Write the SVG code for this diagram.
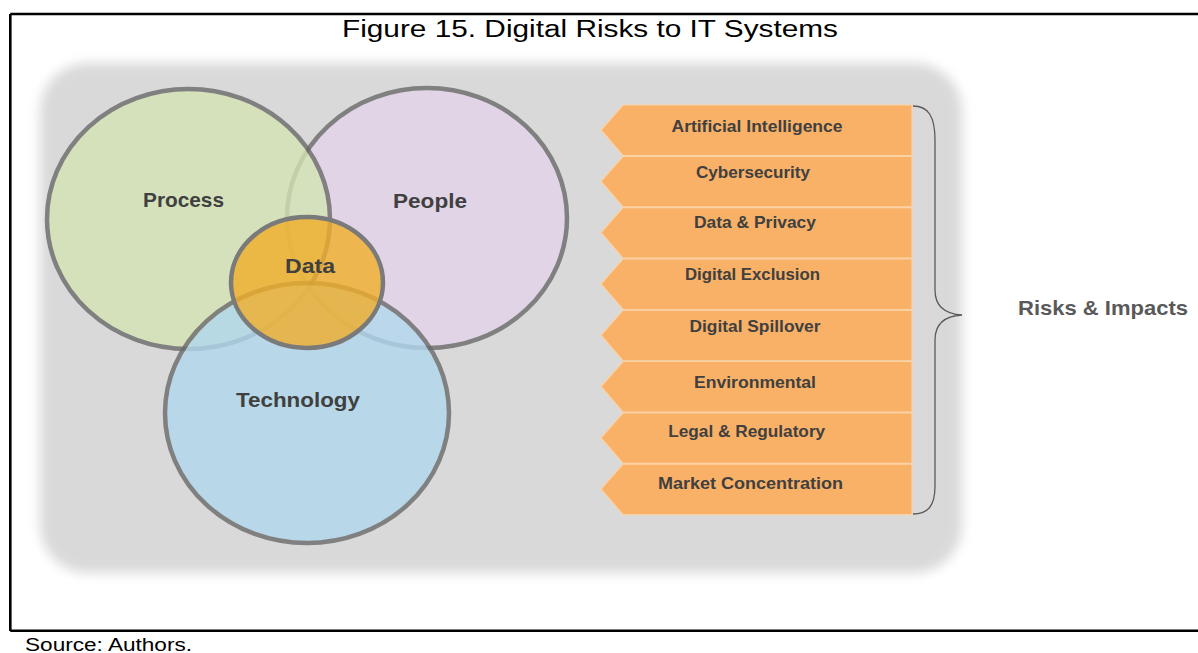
<svg xmlns="http://www.w3.org/2000/svg" width="1198" height="653" viewBox="0 0 1198 653">
<style>
.frame{stroke:#000;stroke-width:2.6;fill:none}
.cap{font-family:"Liberation Sans",Arial,sans-serif;fill:#000}
.venn{stroke:#6a6a6a;stroke-width:4.5;opacity:0.8}
.vl{font-family:"Liberation Sans",Arial,sans-serif;font-weight:bold;font-size:21px;fill:#404040;text-anchor:middle}
.chev{fill:#f9b167;stroke:#fbd2a6;stroke-width:1.2}
.cl{font-family:"Liberation Sans",Arial,sans-serif;font-weight:bold;font-size:16.5px;fill:#404040;text-anchor:middle}
.brace{fill:none;stroke:#5a5a5a;stroke-width:1.3}
</style>
<defs>
<filter id="soft" x="-10%" y="-10%" width="120%" height="120%">
<feGaussianBlur stdDeviation="6"/>
</filter>
</defs>
<rect width="1198" height="653" fill="#fff"/>
<g id="frame">
<path class="frame" d="M10.3,14 H1198 M10.3,14 V631 M10.3,630.8 H1198"/>
<text class="cap" x="342" y="37" font-size="23" textLength="496" lengthAdjust="spacingAndGlyphs">Figure 15. Digital Risks to IT Systems</text>
<text class="cap" x="25" y="651" font-size="18" textLength="167" lengthAdjust="spacingAndGlyphs">Source: Authors.</text>
</g>
<g id="background">
<rect x="40" y="63" width="922" height="510" rx="48" fill="#d9d9d9" filter="url(#soft)"/>
</g>
<g id="people">
<ellipse class="venn" cx="427" cy="218" rx="140" ry="130" fill="#e2d4ea"/>
<text class="vl" x="430" y="208" textLength="74" lengthAdjust="spacingAndGlyphs">People</text>
</g>
<g id="process">
<ellipse class="venn" cx="188.5" cy="219" rx="141.5" ry="130" fill="#d3e4b4"/>
<text class="vl" x="183.5" y="206.7" textLength="81" lengthAdjust="spacingAndGlyphs">Process</text>
</g>
<g id="technology">
<ellipse class="venn" cx="307" cy="413" rx="142" ry="130" fill="#b1d8ee"/>
<text class="vl" x="298" y="406.7" textLength="124" lengthAdjust="spacingAndGlyphs">Technology</text>
</g>
<g id="data">
<ellipse cx="307" cy="282.5" rx="76" ry="65.5" fill="#f0ae28" fill-opacity="0.8" stroke="#7a7a7a" stroke-width="4.5"/>
<text class="vl" x="310" y="272.7" textLength="50" lengthAdjust="spacingAndGlyphs">Data</text>
</g>
<g id="risk-ai">
<path class="chev" d="M912,105 H623 L601,130 L623,155.6 H912 Z"/>
<text class="cl" x="757" y="132" textLength="171" lengthAdjust="spacingAndGlyphs">Artificial Intelligence</text>
</g>
<g id="risk-cyber">
<path class="chev" d="M912,156.3 H623 L601,181.3 L623,206.9 H912 Z"/>
<text class="cl" x="753" y="178.3" textLength="114" lengthAdjust="spacingAndGlyphs">Cybersecurity</text>
</g>
<g id="risk-data">
<path class="chev" d="M912,207.6 H623 L601,232.6 L623,258.2 H912 Z"/>
<text class="cl" x="755" y="228.3" textLength="122" lengthAdjust="spacingAndGlyphs">Data &amp; Privacy</text>
</g>
<g id="risk-exclusion">
<path class="chev" d="M912,258.9 H623 L601,283.9 L623,309.5 H912 Z"/>
<text class="cl" x="752.5" y="280" textLength="135" lengthAdjust="spacingAndGlyphs">Digital Exclusion</text>
</g>
<g id="risk-spillover">
<path class="chev" d="M912,310.2 H623 L601,335.2 L623,360.8 H912 Z"/>
<text class="cl" x="755" y="331.7" textLength="131" lengthAdjust="spacingAndGlyphs">Digital Spillover</text>
</g>
<g id="risk-environmental">
<path class="chev" d="M912,361.5 H623 L601,386.5 L623,412.1 H912 Z"/>
<text class="cl" x="755" y="388.3" textLength="122" lengthAdjust="spacingAndGlyphs">Environmental</text>
</g>
<g id="risk-legal">
<path class="chev" d="M912,412.8 H623 L601,437.8 L623,463.4 H912 Z"/>
<text class="cl" x="746.7" y="436.7" textLength="157" lengthAdjust="spacingAndGlyphs">Legal &amp; Regulatory</text>
</g>
<g id="risk-market">
<path class="chev" d="M912,464.1 H623 L601,489.1 L623,514.7 H912 Z"/>
<text class="cl" x="750.5" y="489.3" textLength="185" lengthAdjust="spacingAndGlyphs">Market Concentration</text>
</g>
<g id="connectors">
<path class="brace" d="M913,106 C928,106 935,116 935,140 L935,290 C935,306 945,314 962,315 C945,316 935,324 935,340 L935,486 C935,506 928,514 913,514"/>
</g>
<g id="risks-impacts">
<text x="1018" y="315" font-family="Liberation Sans, Arial, sans-serif" font-weight="bold" font-size="21" fill="#595959" textLength="170" lengthAdjust="spacingAndGlyphs">Risks &amp; Impacts</text>
</g>
</svg>
